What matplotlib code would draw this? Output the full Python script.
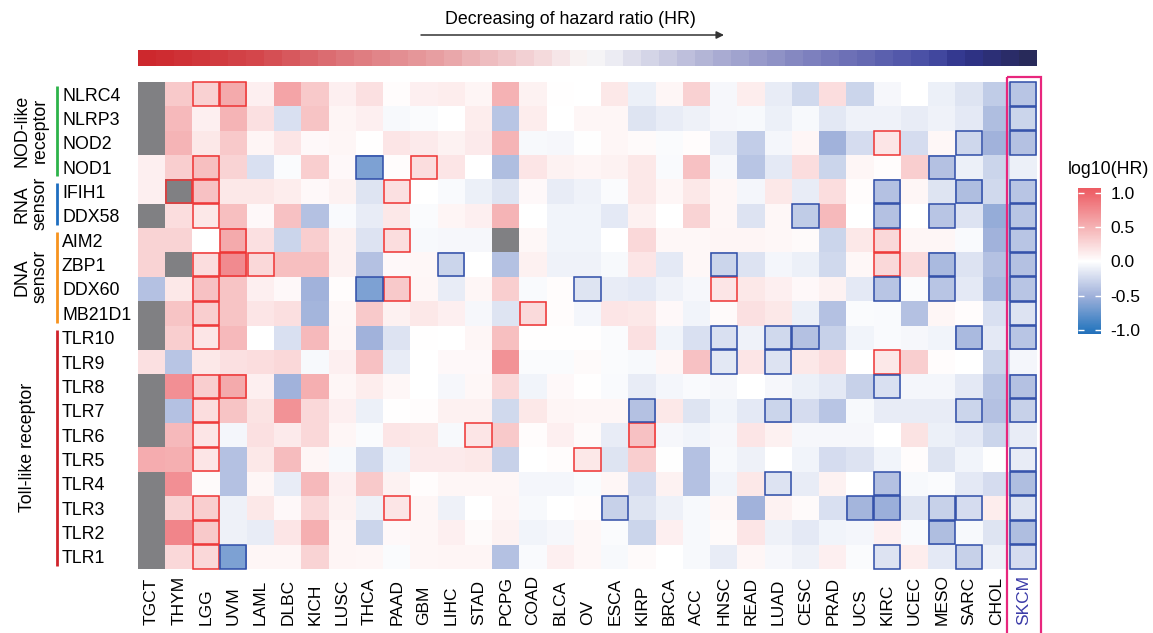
import numpy as np
import matplotlib
matplotlib.use("Agg")
import matplotlib.pyplot as plt
from matplotlib.colors import LinearSegmentedColormap, Normalize
from matplotlib.patches import Rectangle

plt.rcParams['font.family'] = ['Liberation Sans', 'DejaVu Sans']
plt.rcParams['axes.unicode_minus'] = False

nan = float('nan')

cancers = ['TGCT', 'THYM', 'LGG', 'UVM', 'LAML', 'DLBC', 'KICH', 'LUSC', 'THCA', 'PAAD', 'GBM',
           'LIHC', 'STAD', 'PCPG', 'COAD', 'BLCA', 'OV', 'ESCA', 'KIRP', 'BRCA', 'ACC', 'HNSC',
           'READ', 'LUAD', 'CESC', 'PRAD', 'UCS', 'KIRC', 'UCEC', 'MESO', 'SARC', 'CHOL', 'SKCM']
genes = ['NLRC4', 'NLRP3', 'NOD2', 'NOD1', 'IFIH1', 'DDX58', 'AIM2', 'ZBP1', 'DDX60', 'MB21D1',
         'TLR10', 'TLR9', 'TLR8', 'TLR7', 'TLR6', 'TLR5', 'TLR4', 'TLR3', 'TLR2', 'TLR1']

# log10(HR) per gene (NaN = not available)
NLRC4 = [nan, 0.35, 0.3, 0.55, 0.1, 0.58, 0.35, 0.1, 0.2, 0.02, 0.1,
         0.12, 0.07, 0.5, 0.08, 0.01, 0.0, 0.15, -0.1, 0.06, 0.3, -0.05,
         0.12, -0.12, -0.25, 0.22, -0.27, -0.05, 0.0, -0.1, -0.17, -0.33, -0.37]
NLRP3 = [nan, 0.45, 0.1, 0.48, 0.2, -0.2, 0.38, 0.07, 0.1, -0.04, -0.02,
         0.0, 0.12, -0.37, 0.12, 0.0, 0.06, 0.06, -0.17, -0.12, -0.09, -0.05,
         -0.04, -0.1, -0.04, -0.15, -0.08, -0.08, -0.12, -0.08, -0.14, -0.42, -0.27]
NOD2 = [nan, 0.48, 0.15, 0.35, 0.07, 0.17, 0.04, 0.06, 0.01, 0.17, 0.13,
        0.08, 0.13, 0.48, -0.04, -0.05, -0.01, 0.06, 0.03, -0.02, 0.02, -0.12,
        -0.32, -0.06, 0.06, -0.5, -0.22, 0.17, -0.22, 0.05, -0.26, -0.5, -0.4]
NOD1 = [0.1, 0.32, 0.42, 0.28, -0.2, -0.02, 0.32, 0.04, -0.65, 0.02, 0.22,
        0.17, 0.0, -0.42, 0.17, 0.08, 0.07, 0.08, 0.15, -0.03, 0.4, -0.05,
        -0.37, -0.14, 0.22, -0.27, 0.06, 0.02, 0.32, -0.4, -0.1, -0.27, -0.1]
IFIH1 = [0.1, nan, 0.4, 0.15, 0.15, 0.12, 0.04, 0.08, -0.17, 0.2, 0.0,
         -0.03, -0.1, -0.17, 0.04, -0.12, -0.08, -0.02, 0.15, 0.06, 0.15, 0.06,
         -0.06, 0.15, -0.12, 0.22, 0.02, -0.4, 0.06, -0.17, -0.42, -0.25, -0.37]
DDX58 = [nan, 0.22, 0.15, 0.42, 0.04, 0.4, -0.4, -0.03, -0.12, 0.15, -0.02,
         0.07, 0.1, 0.48, 0.0, -0.07, -0.07, -0.14, 0.09, 0.0, 0.28, 0.06,
         -0.18, 0.05, -0.33, 0.45, 0.0, -0.4, 0.0, -0.37, -0.18, -0.55, -0.37]
AIM2 = [0.28, 0.28, 0.0, 0.55, 0.2, -0.27, 0.32, 0.09, -0.18, 0.22, -0.04,
        -0.05, -0.05, nan, 0.05, -0.07, -0.07, 0.0, 0.25, 0.05, 0.05, 0.07,
        0.07, 0.05, 0.03, -0.27, 0.15, 0.25, 0.06, 0.06, -0.03, -0.5, -0.37]
ZBP1 = [0.28, nan, 0.22, 0.75, 0.25, 0.42, 0.42, 0.09, -0.4, 0.04, 0.05,
        -0.27, 0.0, -0.4, 0.09, -0.08, -0.08, -0.04, 0.17, -0.14, 0.05, -0.27,
        -0.18, -0.06, -0.1, -0.25, 0.05, 0.25, 0.24, -0.45, -0.18, -0.4, -0.4]
DDX60 = [-0.4, 0.15, 0.4, 0.38, 0.1, 0.04, -0.5, 0.02, -0.65, 0.35, 0.06,
         -0.12, 0.06, 0.32, -0.03, 0.02, -0.17, -0.12, -0.14, -0.08, -0.05, 0.17,
         0.15, 0.1, 0.04, 0.08, -0.14, -0.37, -0.02, -0.37, -0.14, -0.45, -0.37]
MB21D1 = [nan, 0.38, 0.32, 0.38, 0.17, 0.21, -0.48, 0.05, 0.35, 0.09, 0.15,
          0.1, -0.05, -0.17, 0.24, 0.02, -0.06, 0.17, 0.15, 0.04, -0.07, 0.03,
          0.2, 0.15, -0.1, -0.4, -0.02, -0.03, -0.4, 0.06, 0.02, -0.2, -0.18]
TLR10 = [nan, 0.32, 0.17, 0.45, 0.0, -0.2, 0.45, 0.06, -0.5, -0.18, 0.01,
         0.0, 0.06, 0.42, 0.01, 0.01, 0.01, -0.02, 0.2, -0.07, -0.2, -0.2,
         -0.08, -0.25, -0.4, -0.3, -0.07, -0.03, -0.05, -0.07, -0.45, -0.14, -0.37]
TLR9 = [0.2, -0.37, 0.15, 0.2, 0.22, 0.25, -0.04, 0.1, 0.4, -0.12, 0.0,
        0.04, 0.04, 0.7, -0.02, -0.02, 0.03, -0.02, -0.04, 0.06, 0.4, -0.15,
        0.17, -0.18, 0.15, 0.22, 0.0, 0.15, 0.32, 0.02, 0.0, -0.27, -0.06]
TLR8 = [nan, 0.72, 0.32, 0.55, 0.1, -0.5, 0.52, 0.06, 0.12, 0.05, 0.0,
        -0.05, 0.05, 0.25, -0.07, 0.04, 0.01, -0.03, -0.12, -0.06, -0.03, -0.05,
        0.0, -0.05, -0.1, -0.14, -0.3, -0.2, -0.06, -0.06, -0.14, -0.37, -0.4]
TLR7 = [nan, -0.4, 0.22, 0.38, 0.18, 0.7, 0.25, 0.1, -0.1, 0.01, 0.02,
        0.09, 0.09, -0.25, 0.15, 0.07, 0.06, 0.06, -0.4, 0.15, -0.17, -0.07,
        -0.14, -0.27, -0.22, -0.37, -0.04, -0.12, -0.12, -0.12, -0.27, -0.4, -0.3]
TLR6 = [nan, 0.45, 0.17, -0.06, 0.2, 0.13, 0.25, 0.06, -0.02, 0.17, 0.15,
        -0.04, 0.17, 0.35, 0.02, 0.1, 0.03, -0.12, 0.4, -0.05, -0.07, -0.05,
        0.17, 0.09, -0.05, -0.05, -0.05, 0.0, 0.18, -0.1, -0.14, -0.27, -0.12]
TLR5 = [0.53, 0.52, 0.17, -0.4, 0.15, 0.43, 0.06, -0.04, -0.25, -0.07, 0.13,
        0.13, 0.15, -0.3, 0.0, 0.02, 0.15, -0.17, 0.32, -0.01, -0.4, -0.04,
        -0.09, 0.0, -0.07, -0.22, -0.18, -0.07, 0.02, -0.17, -0.07, -0.01, -0.12]
TLR4 = [nan, 0.72, 0.03, -0.4, 0.06, -0.12, 0.45, 0.1, 0.35, 0.08, 0.02,
        0.06, 0.06, 0.06, -0.06, -0.06, -0.02, 0.06, -0.22, 0.08, -0.4, -0.07,
        0.15, -0.18, -0.12, 0.08, 0.0, -0.4, -0.04, -0.02, -0.14, -0.22, -0.42]
TLR3 = [nan, 0.28, 0.32, -0.09, 0.15, 0.04, 0.25, 0.08, -0.09, 0.17, 0.06,
        -0.09, 0.0, 0.07, -0.04, 0.0, 0.02, -0.3, -0.17, -0.09, -0.04, 0.05,
        -0.5, 0.08, 0.03, -0.2, -0.48, -0.52, -0.17, -0.3, -0.22, 0.12, -0.17]
TLR2 = [nan, 0.78, 0.35, -0.09, -0.12, 0.17, 0.52, 0.07, -0.27, 0.04, 0.06,
        0.1, 0.03, 0.08, -0.07, -0.05, 0.05, -0.02, -0.27, 0.1, -0.04, 0.03,
        0.17, -0.09, -0.14, -0.07, -0.06, 0.1, -0.03, -0.42, -0.04, -0.17, -0.42]
TLR1 = [nan, 0.25, 0.25, -0.65, 0.06, 0.06, 0.28, 0.07, 0.06, -0.02, 0.06,
        0.07, 0.07, -0.4, -0.03, 0.1, 0.05, -0.04, 0.03, 0.0, -0.04, -0.12,
        0.06, -0.05, -0.09, 0.1, -0.02, -0.18, 0.12, -0.14, -0.3, -0.09, -0.22]

rows = [NLRC4, NLRP3, NOD2, NOD1, IFIH1, DDX58, AIM2, ZBP1, DDX60, MB21D1,
        TLR10, TLR9, TLR8, TLR7, TLR6, TLR5, TLR4, TLR3, TLR2, TLR1]

# significant cells (gene index, cancer index)
sig_risk = [(0, 2), (0, 3), (3, 2), (3, 10), (4, 1), (4, 2), (4, 9), (5, 2), (6, 3), (6, 9),
            (7, 2), (7, 3), (7, 4), (8, 2), (8, 9), (9, 2), (9, 14), (10, 2), (12, 2), (12, 3),
            (13, 2), (14, 2), (14, 12), (14, 18), (15, 2), (15, 16), (17, 2), (17, 9), (18, 2),
            (19, 2), (8, 21), (2, 27), (6, 27), (7, 27), (11, 27)]
sig_protect = [(3, 8), (8, 8), (7, 11), (8, 16), (7, 21), (10, 21), (11, 21), (10, 23), (11, 23),
               (13, 23), (16, 23), (10, 24), (5, 24), (13, 18), (17, 17), (19, 3), (2, 30), (3, 29),
               (4, 27), (4, 30), (5, 27), (5, 29), (7, 29), (8, 27), (8, 29), (10, 30), (12, 27),
               (13, 30), (16, 27), (17, 26), (17, 27), (17, 29), (17, 30), (18, 29), (19, 27),
               (19, 30)]
skcm_sig_rows = [0, 1, 2, 4, 5, 6, 7, 8, 9, 10, 12, 13, 15, 16, 17, 18, 19]

groups = [('NOD-like\nreceptor', 0, 4, '#2DB34A'), ('RNA\nsensor', 4, 6, '#1E6EC0'),
          ('DNA\nsensor', 6, 10, '#F7931E'), ('Toll-like receptor', 10, 20, '#D0242B')]

W, H = 1153, 633
fig = plt.figure(figsize=(W / 100, H / 100), dpi=100)

def fbox(x0, y0, x1, y1):
    return [x0 / W, 1 - y1 / H, (x1 - x0) / W, (y1 - y0) / H]

vmin, vmax = -1.06, 1.07
anchors = [(-1.06, '#2470BA'), (-1.0, '#2B78BF'), (-0.5, '#A1B2DB'), (0.0, '#FFFFFF'),
           (0.5, '#F5B2B4'), (1.0, '#EE636A'), (1.07, '#ED5C63')]
cmap = LinearSegmentedColormap.from_list(
    'hr', [((v - vmin) / (vmax - vmin), c) for v, c in anchors])
cmap.set_bad('#808083')
norm = Normalize(vmin=vmin, vmax=vmax)

ax = fig.add_axes(fbox(138, 82, 1037, 569))
data = np.ma.masked_invalid(np.array(rows, dtype=float))
pc = ax.pcolormesh(np.arange(len(cancers) + 1), np.arange(len(genes) + 1), data,
                   cmap=cmap, norm=norm, edgecolors='none')
ax.set_xlim(0, len(cancers))
ax.set_ylim(len(genes), 0)
for s in ax.spines.values():
    s.set_visible(False)

ins = 0.02
for (r, c) in sig_risk:
    ax.add_patch(Rectangle((c + ins, r + ins), 1 - 2 * ins, 1 - 2 * ins, fill=False,
                           edgecolor='#EE3434', lw=1.1, clip_on=False, zorder=3))
for (r, c) in sig_protect + [(r, 32) for r in skcm_sig_rows]:
    ax.add_patch(Rectangle((c + ins, r + ins), 1 - 2 * ins, 1 - 2 * ins, fill=False,
                           edgecolor='#2F4DA8', lw=1.1, clip_on=False, zorder=3))

ax.set_yticks(np.arange(len(genes)) + 0.5)
ax.set_yticklabels(genes, fontsize=12.8, ha='left')
ax.tick_params(axis='y', length=0, pad=(138 - 62) * 0.72)
ax.set_xticks(np.arange(len(cancers)) + 0.5)
ax.set_xticklabels(cancers, fontsize=12.5, rotation=90, va='bottom', ha='center')
ax.tick_params(axis='x', length=0, pad=(625 - 569) * 0.72)
ax.get_xticklabels()[-1].set_color('#3B3BA8')

# top gradient bar
gax = fig.add_axes(fbox(138, 50, 1037, 66))
gcm = LinearSegmentedColormap.from_list('grad', [
    (0.0, (205/255, 40/255, 45/255)), (0.12, (212/255, 70/255, 75/255)),
    (0.23, (222/255, 120/255, 125/255)), (0.33, (232/255, 160/255, 163/255)),
    (0.40, (240/255, 195/255, 198/255)), (0.47, (246/255, 230/255, 232/255)),
    (0.50, (250/255, 248/255, 248/255)), (0.53, (236/255, 236/255, 243/255)),
    (0.63, (180/255, 182/255, 215/255)), (0.757, (125/255, 128/255, 190/255)),
    (0.887, (72/255, 78/255, 165/255)), (0.93, (48/255, 52/255, 140/255)),
    (1.0, (40/255, 42/255, 90/255))])
nsteps = 50
gax.imshow(np.arange(nsteps)[None, :], cmap=gcm, aspect='auto', interpolation='nearest')
gax.axis('off')

# colorbar
cax = fig.add_axes(fbox(1078, 188, 1101, 334))
cb = fig.colorbar(pc, cax=cax, ticks=[-1, -0.5, 0, 0.5, 1])
cb.outline.set_visible(False)
cb.ax.set_yticklabels(['-1.0', '-0.5', '0.0', '0.5', '1.0'])
cax.tick_params(axis='y', direction='in', color='white', length=4, width=1,
                left=True, right=True, labelsize=12.5, pad=7)

# overlay in pixel coordinates
ov = fig.add_axes([0, 0, 1, 1], zorder=10)
ov.set_xlim(0, W)
ov.set_ylim(H, 0)
ov.axis('off')

ov.text(570, 19, 'Decreasing of hazard ratio (HR)', fontsize=12.8, ha='center', va='center')
ov.annotate('', xy=(724, 35), xytext=(421, 35),
            arrowprops=dict(arrowstyle='-|>', color='#333333', lw=1.1, mutation_scale=11,
                            shrinkA=0, shrinkB=0))
ov.text(1108, 170, 'log10(HR)', fontsize=12.8, ha='center', va='center')

ov.add_patch(Rectangle((1006.5, 77), 34.5, 600, fill=False, edgecolor='#E8267D', lw=1.6,
                       clip_on=True))

top, rh = 82, (569 - 82) / len(genes)
for label, r0, r1, col in groups:
    y0 = top + r0 * rh + 4
    y1 = top + r1 * rh - 3
    ov.plot([57, 57], [y0, y1], color=col, lw=2, solid_capstyle='butt')
    yc = top + (r0 + r1) / 2 * rh
    xc = 31 if '\n' in label else 28
    ov.text(xc, yc, label, rotation=90, fontsize=12.8, ha='center', va='center',
            multialignment='center', linespacing=1.05)

fig.savefig('out.png', dpi=100)
